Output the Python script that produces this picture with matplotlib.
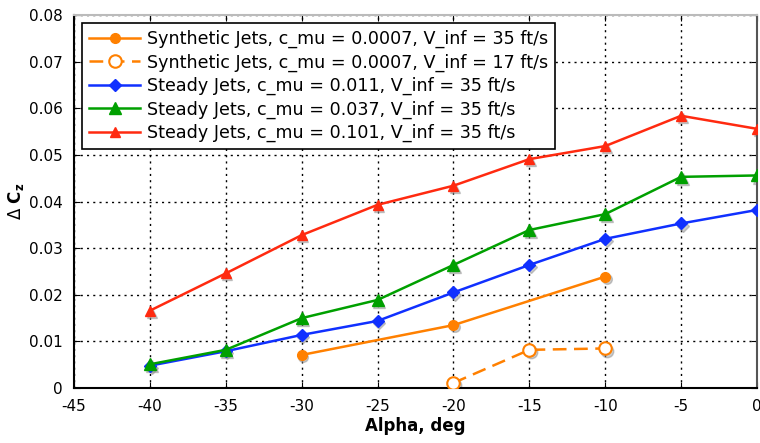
import matplotlib
matplotlib.use("Agg")
import matplotlib.pyplot as plt
from matplotlib.transforms import ScaledTranslation

plt.rcParams['font.family'] = ['DejaVu Sans']

# Increment in side-force coefficient vs. angle of attack
alpha_syn35 = [-30, -20, -10]
dcz_syn35 = [0.0071, 0.0135, 0.0239]

alpha_syn17 = [-20, -15, -10]
dcz_syn17 = [0.0011, 0.0082, 0.0085]

alpha_steady = [-40, -35, -30, -25, -20, -15, -10, -5, 0]
dcz_steady_011 = [0.0048, 0.0079, 0.0114, 0.0144, 0.0205, 0.0264, 0.0320, 0.0353, 0.0382]
dcz_steady_037 = [0.0051, 0.0082, 0.0150, 0.0189, 0.0264, 0.0339, 0.0373, 0.0453, 0.0456]
dcz_steady_101 = [0.0166, 0.0246, 0.0328, 0.0393, 0.0434, 0.0491, 0.0519, 0.0584, 0.0556]

labels = [
    "Synthetic Jets, c_mu = 0.0007, V_inf = 35 ft/s",
    "Synthetic Jets, c_mu = 0.0007, V_inf = 17 ft/s",
    "Steady Jets, c_mu = 0.011, V_inf = 35 ft/s",
    "Steady Jets, c_mu = 0.037, V_inf = 35 ft/s",
    "Steady Jets, c_mu = 0.101, V_inf = 35 ft/s",
]

x_ticks = [-45, -40, -35, -30, -25, -20, -15, -10, -5, 0]
y_ticks = [0, 0.01, 0.02, 0.03, 0.04, 0.05, 0.06, 0.07, 0.08]
y_tick_labels = ["0", "0.01", "0.02", "0.03", "0.04", "0.05", "0.06", "0.07", "0.08"]

orange = "#FF8000"
blue = "#1030FF"
green = "#00A000"
red = "#FF2A10"

fig = plt.figure(figsize=(7.6, 4.43), dpi=100)
ax = fig.add_axes([0.0974, 0.124, 0.8986, 0.842])

series = [
    (alpha_syn35, dcz_syn35, dict(color=orange, marker="o", ms=7, ls="-", mfc=orange, mec=orange)),
    (alpha_syn17, dcz_syn17, dict(color=orange, marker="o", ms=9, ls=(0, (5.5, 3)), mfc="white", mec=orange, mew=1.5)),
    (alpha_steady, dcz_steady_011, dict(color=blue, marker="D", ms=6.5, ls="-", mfc=blue, mec=blue)),
    (alpha_steady, dcz_steady_037, dict(color=green, marker="^", ms=9, ls="-", mfc=green, mec=green)),
    (alpha_steady, dcz_steady_101, dict(color=red, marker="^", ms=7, ls="-", mfc=red, mec=red)),
]

# soft drop shadow under each marker
shadow = ax.transData + ScaledTranslation(1.2 / 72, -1.5 / 72, fig.dpi_scale_trans)
for x, y, st in series:
    ax.plot(x, y, ls="none", marker=st["marker"], ms=st["ms"], color="0.55", alpha=0.45,
            transform=shadow, zorder=2)

handles = []
for (x, y, st), lab in zip(series, labels):
    h, = ax.plot(x, y, lw=1.8, label=lab, zorder=3, **st)
    handles.append(h)

ax.set_xlim(-45, 0)
ax.set_ylim(0, 0.08)
ax.set_xticks(x_ticks)
ax.set_xticklabels([str(v) for v in x_ticks])
ax.set_yticks(y_ticks)
ax.set_yticklabels(y_tick_labels)
ax.tick_params(direction="in", top=True, right=True, length=4, labelsize=11, colors="black")
ax.tick_params(axis="x", pad=8)
ax.tick_params(axis="y", pad=8)

ax.grid(True, color="black", ls=(0, (1.5, 3)), lw=1.0)
ax.set_axisbelow(True)

ax.spines["left"].set_color("black")
ax.spines["bottom"].set_color("black")
ax.spines["left"].set_linewidth(1.5)
ax.spines["bottom"].set_linewidth(1.5)
ax.spines["top"].set_color("#BBBBBB")
ax.spines["right"].set_color("#555555")
ax.spines["top"].set_linewidth(1.5)
ax.spines["right"].set_linewidth(1.5)

ax.set_xlabel("Alpha, deg", fontsize=12, fontweight="bold", labelpad=2)
ax.set_ylabel(r"$\Delta\ \mathbf{C}_\mathbf{z}$", fontsize=12, labelpad=2)

leg = ax.legend(handles=handles, loc="upper left", bbox_to_anchor=(0.012, 0.979),
                borderaxespad=0, fontsize=12.6, frameon=True, fancybox=False,
                edgecolor="black", framealpha=1, handlelength=2.9, handletextpad=0.4,
                labelspacing=0.3, borderpad=0.4)
leg.get_frame().set_linewidth(1.2)
leg.set_zorder(5)

fig.savefig("out.png", dpi=100)
